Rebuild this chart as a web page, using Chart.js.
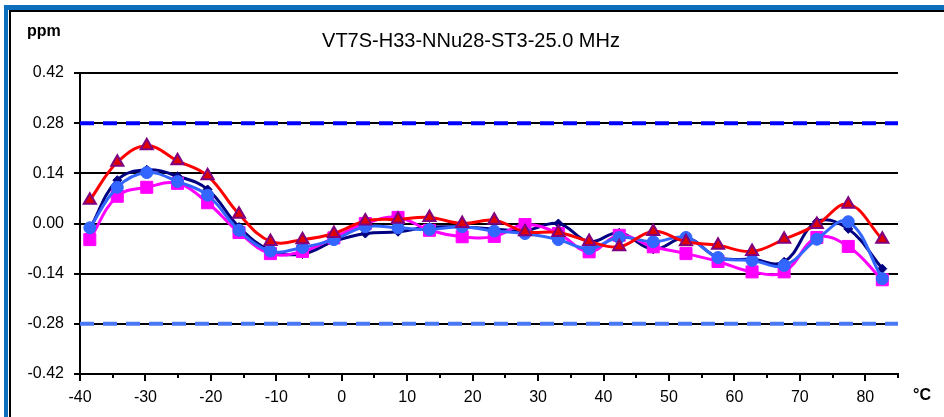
<!DOCTYPE html>
<html>
<head>
<meta charset="utf-8">
<script src="https://cdn.jsdelivr.net/npm/chart.js@4"></script>
<style>
  body { margin: 0; background: #fff; }
  #wrap { position: relative; width: 944px; height: 417px; overflow: hidden; }
  #chart { position: absolute; left: 0; top: 0; }
  .frameBlue { position: absolute; left: 4px; top: 5px; width: 960px; height: 430px;
    border-left: 4px solid #0B6FBE; border-top: 5px solid #0B6FBE; pointer-events: none; }
  .frameBlack { position: absolute; left: 9px; top: 10px; width: 960px; height: 430px;
    border-left: 2px solid #000; border-top: 2px solid #000; pointer-events: none; }
  .lbl { position: absolute; font-family: "Liberation Sans", Arial, sans-serif; color: #000; white-space: nowrap; }
  #title { left: 0; width: 942px; top: 30px; text-align: center; font-size: 20px; line-height: 20px; }
  #ppm { left: 27px; top: 23px; font-size: 16px; line-height: 16px; font-weight: bold; }
  #degc { left: 913px; top: 387px; font-size: 16px; line-height: 16px; font-weight: bold; }
</style>
</head>
<body>
<div id="wrap">
  <canvas id="chart" width="944" height="417"></canvas>
  <div class="frameBlue"></div>
  <div class="frameBlack"></div>
  <div class="lbl" id="title">VT7S-H33-NNu28-ST3-25.0 MHz</div>
  <div class="lbl" id="ppm">ppm</div>
  <div class="lbl" id="degc">°C</div>
</div>
<script>
// temperature points (°C)
const temps = [-38.5, -34.3, -29.8, -25.1, -20.5, -15.7, -10.9, -6.0, -1.2, 3.6, 8.6, 13.4, 18.4,
  23.3, 28.0, 33.1, 37.8, 42.4, 47.6, 52.6, 57.5, 62.7, 67.6, 72.6, 77.4, 82.6];

// frequency deviation (ppm) per sample
const navyVals = [-0.015, 0.121, 0.150, 0.132, 0.095, -0.010, -0.075, -0.085, -0.050, -0.028, -0.023, -0.010, -0.010,
  -0.015, -0.020, 0.000, -0.051, -0.026, -0.072, -0.040, -0.095, -0.100, -0.107, 0.005, -0.015, -0.126];
const magentaVals = [-0.045, 0.076, 0.101, 0.112, 0.058, -0.025, -0.084, -0.078, -0.040, 0.000, 0.017, -0.019, -0.037,
  -0.036, -0.003, -0.028, -0.079, -0.033, -0.065, -0.084, -0.106, -0.135, -0.135, -0.039, -0.064, -0.157];
const redVals = [0.065, 0.171, 0.217, 0.175, 0.133, 0.026, -0.050, -0.045, -0.028, 0.007, 0.012, 0.017, 0.000,
  0.009, -0.023, -0.025, -0.050, -0.065, -0.022, -0.051, -0.061, -0.078, -0.044, -0.003, 0.054, -0.044];
const blueVals = [-0.012, 0.101, 0.142, 0.117, 0.079, -0.019, -0.077, -0.067, -0.045, -0.009, -0.012, -0.017, -0.009,
  -0.021, -0.028, -0.045, -0.070, -0.039, -0.051, -0.039, -0.095, -0.103, -0.117, -0.044, 0.005, -0.154];

// spec limits
const limitRange = [-40, 85];
const upperLimit = 0.28;
const lowerLimit = -0.28;

const xMin = -40, xMax = 85, xStep = 10;
const yMin = -0.42, yMax = 0.42, yStep = 0.14;

const FONT = '"Liberation Sans", Arial, sans-serif';

function toPoints(vals) {
  return temps.map((t, i) => ({ x: t, y: vals[i] }));
}

function limitLine(v) {
  return limitRange.map(t => ({ x: t, y: v }));
}

// minor ticks on the x axis (every 5 degrees between labels)
const minorTicks = {
  id: 'minorTicks',
  afterDraw(chart) {
    const ctx = chart.ctx;
    const xs = chart.scales.x;
    const bottom = chart.chartArea.bottom;
    ctx.save();
    ctx.strokeStyle = '#000';
    ctx.lineWidth = 2;
    for (let v = xMin + 5; v <= xMax; v += 10) {
      const px = Math.round(xs.getPixelForValue(v));
      ctx.beginPath();
      ctx.moveTo(px, bottom);
      ctx.lineTo(px, bottom + 4);
      ctx.stroke();
    }
    ctx.restore();
  }
};

const ctx = document.getElementById('chart').getContext('2d');
new Chart(ctx, {
  type: 'line',
  data: {
    datasets: [
      {
        data: toPoints(redVals),
        borderColor: '#FF0000', borderWidth: 3, tension: 0.4,
        pointStyle: 'triangle', pointRadius: 7, pointBorderWidth: 2,
        pointBackgroundColor: '#E00000', pointBorderColor: '#800080',
        order: 0
      },
      {
        data: toPoints(blueVals),
        borderColor: '#3366FF', borderWidth: 3, tension: 0.4,
        pointStyle: 'circle', pointRadius: 6, pointBorderWidth: 1,
        pointBackgroundColor: '#3366FF', pointBorderColor: '#3366FF',
        order: 1
      },
      {
        data: toPoints(magentaVals),
        borderColor: '#FF00FF', borderWidth: 3, tension: 0.4,
        pointStyle: 'rect', pointRadius: 8.5, pointBorderWidth: 1,
        pointBackgroundColor: '#FF00FF', pointBorderColor: '#FF00FF',
        order: 2
      },
      {
        data: toPoints(navyVals),
        borderColor: '#000080', borderWidth: 3, tension: 0.4,
        pointStyle: 'rectRot', pointRadius: 4.5, pointBorderWidth: 1,
        pointBackgroundColor: '#000080', pointBorderColor: '#000080',
        order: 3
      },
      {
        data: limitLine(upperLimit),
        borderColor: '#0000FF', borderWidth: 4, borderDash: [14, 9], tension: 0,
        pointRadius: 0, order: 4
      },
      {
        data: limitLine(lowerLimit),
        borderColor: '#4A78F5', borderWidth: 4, borderDash: [14, 9], tension: 0,
        pointRadius: 0, order: 5
      }
    ]
  },
  options: {
    responsive: false,
    animation: false,
    layout: { padding: { left: 0, right: 46, top: 73, bottom: 0 } },
    plugins: {
      legend: { display: false },
      tooltip: { enabled: false }
    },
    scales: {
      x: {
        type: 'linear',
        min: xMin, max: xMax,
        afterFit: scale => { scale.height = 43; },
        ticks: {
          stepSize: xStep,
          padding: 7,
          color: '#000',
          font: { family: FONT, size: 16 },
          maxRotation: 0,
          callback: v => (v % 10 === 0 ? v : null)
        },
        grid: { drawOnChartArea: false, drawTicks: true, tickLength: 7, color: '#000', lineWidth: 2 },
        border: { color: '#000', width: 2 }
      },
      y: {
        min: yMin, max: yMax,
        afterFit: scale => { scale.width = 80; },
        ticks: {
          stepSize: yStep,
          padding: 10,
          color: '#000',
          font: { family: FONT, size: 16 },
          callback: v => (Math.abs(v) < 1e-9 ? 0 : v).toFixed(2)
        },
        grid: { color: '#000', lineWidth: 2, tickLength: 6 },
        border: { color: '#000', width: 2 }
      }
    }
  },
  plugins: [minorTicks]
});
</script>
</body>
</html>
